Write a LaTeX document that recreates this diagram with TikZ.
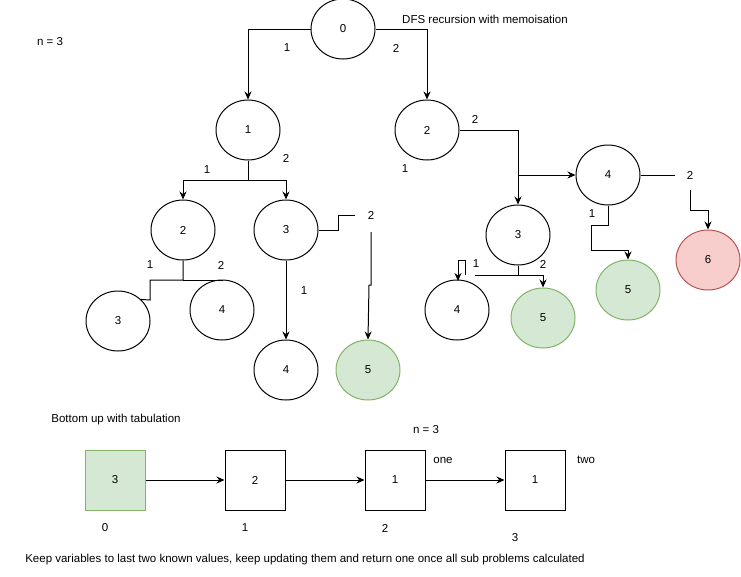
\documentclass[tikz,border=0pt]{standalone}
\usepackage{fontspec}
\setmainfont{Liberation Sans}
\usetikzlibrary{shapes.geometric,arrows.meta}
\definecolor{gfill}{HTML}{D5E8D4}
\definecolor{gline}{HTML}{82B366}
\definecolor{rfill}{HTML}{F8CECC}
\definecolor{rline}{HTML}{B85450}
\begin{document}
\begin{tikzpicture}[x=1pt,y=-1pt,line width=1pt,
  el/.style={draw,ellipse,minimum width=64pt,minimum height=60pt,inner sep=0pt,font=\fontsize{11.5}{13}\selectfont},
  gr/.style={el,draw=gline,fill=gfill},
  rd/.style={el,draw=rline,fill=rfill},
  sq/.style={draw,minimum width=60pt,minimum height=60pt,inner sep=0pt,font=\fontsize{11.5}{13}\selectfont},
  t/.style={font=\fontsize{11.5}{13}\selectfont,inner sep=1pt},
  ar/.style={-{Stealth[length=8pt,width=7pt]}}]
\useasboundingbox (0,0) rectangle (741,576);
\node[el] (n0) at (343,29) {0};
\node[el] (n1) at (248,130) {1};
\node[el] (n2) at (427,130) {2};
\node[el] (n4r) at (608,175) {4};
\node[el] (n2l) at (183,230) {2};
\node[el] (n3l) at (286,230) {3};
\node[el] (n3m) at (518,235) {3};
\node[el] (n3b) at (118,321) {3};
\node[el] (n4b) at (222,310) {4};
\node[el] (n4c) at (286,370) {4};
\node[gr] (n5a) at (368,370) {5};
\node[el] (n4m) at (457,310) {4};
\node[gr] (n5b) at (543,318) {5};
\node[gr] (n5c) at (628,290) {5};
\node[rd] (n6) at (708,260) {6};
\coordinate (c1) at (371,232);
\coordinate (c2) at (690,190);
\draw[ar] (n0.west) -| (n1.north);
\draw[ar] (n0.east) -| (n2.north);
\draw (n1.south) -- (248,180);
\draw[ar] (248,180) -| (n2l.north);
\draw[ar] (248,180) -| (n3l.north);
\draw[ar] (n2.east) -| (n3m.north);
\draw[ar] (518,175) -- (n4r.west);
\draw (n3l.east) -- (338,230) -- (338,215) -- (355,215);
\draw[ar] (c1) -- (371,285) -- (369,285) -- (n5a.north);
\draw[ar] (n3l.south) -- (n4c.north);
\draw (n2l.south) -- (183,280) -- (150,280) -- (150,300) -- (n3b.north east);
\draw (183,280) -- (222,280) -- (n4b.north);
\draw (n3m.south) -- (518,275) -- (475,275);
\draw[ar] (518,275) -- (543,275) -- (n5b.north);
\draw[ar] (465,275) -- (465,260) -- (458,260) -- (458,281);
\draw (n4r.east) -- (675,175);
\draw[ar] (c2) -- (690,210) -- (708,210) -- (n6.north);
\draw[ar] (n4r.south) -- (608,225) -- (591,225) -- (591,250) -- (628,250) -- (n5c.north);
\node[t] at (287,48) {1};
\node[t] at (396,48) {2};
\node[t] at (207,170) {1};
\node[t] at (286,158) {2};
\node[t] at (475,119) {2};
\node[t] at (405,169) {1};
\node[t] at (371,215) {2};
\node[t] at (304,291) {1};
\node[t] at (150,265) {1};
\node[t] at (221,265) {2};
\node[t] at (476,264) {1};
\node[t] at (543,264) {2};
\node[t] at (690,175) {2};
\node[t] at (592,214) {1};
\node[t] at (50,42) {n = 3};
\node[t] at (485,19) {DFS recursion with memoisation};
\node[sq,draw=gline,fill=gfill] (s0) at (115,480) {3};
\node[sq] (s1) at (255,480) {2};
\node[sq] (s2) at (395,480) {1};
\node[sq] (s3) at (535,480) {1};
\draw[ar] (s0) -- (s1);
\draw[ar] (s1) -- (s2);
\draw[ar] (s2) -- (s3);
\node[t] at (105,528) {0};
\node[t] at (245,528) {1};
\node[t] at (385,528) {2};
\node[t] at (515,538) {3};
\node[t] at (443,460) {one};
\node[t] at (586,460) {two};
\node[t] at (426,430) {n = 3};
\node[t] at (116,420) {Bottom up with tabulation};
\node[t] at (305,560) {Keep variables to last two known values, keep updating them and return one once all sub problems calculated};
\end{tikzpicture}
\end{document}
